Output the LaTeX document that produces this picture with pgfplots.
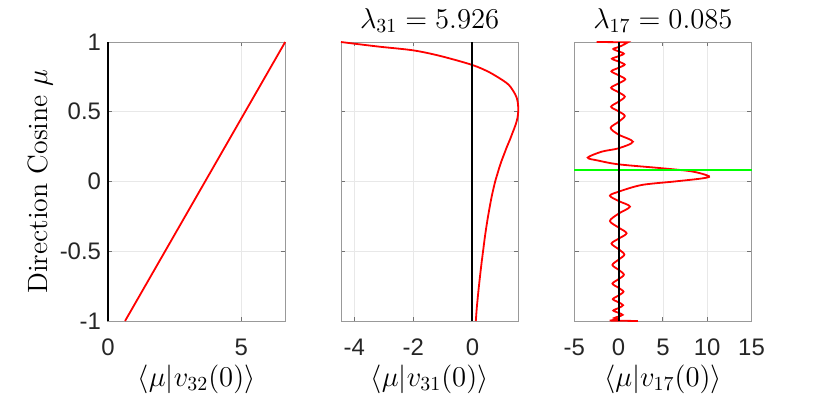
\documentclass[border=0pt]{standalone}
\usepackage{fontspec}
\setsansfont{Liberation Sans}
\usepackage{pgfplots}
\pgfplotsset{compat=1.18}
\definecolor{mred}{RGB}{255,0,0}
\definecolor{mgreen}{RGB}{0,255,0}

\pgfplotsset{
  every axis title/.style={at={(axis description cs:0.5,1.05)}, anchor=base,
                           font=\fontsize{14}{16}\selectfont},
  panel/.style={
    scale only axis, width=88.6bp, height=139.5bp,
    ymin=-1, ymax=1, ytick={-1,-0.5,0,0.5,1},
    grid=major, major grid style={draw=black!9, line width=0.4bp},
    axis line style={draw=black!40, line width=0.5bp},
    tick align=inside, major tick length=2.2bp,
    every tick/.style={black!55, line width=0.5bp},
    tick label style={font=\sffamily\fontsize{12}{14}\selectfont, text=black!85},
    xticklabel style={anchor=base, yshift=-17bp},
    /pgf/number format/assume math mode=true,
    label style={font=\fontsize{14}{16}\selectfont},
    xlabel style={at={(axis description cs:0.5,-0.233)}, anchor=base},
    ylabel style={at={(axis description cs:-0.344,0.5)}, anchor=base},
    clip=false,
  },
  redline/.style={mred, line width=0.9bp},
  zeroline/.style={black, line width=1bp},
}

\begin{document}
\begin{tikzpicture}
\useasboundingbox (-54bp,-37bp) rectangle (361bp,160.5bp);

% panel 1
\begin{axis}[panel, at={(0bp,0bp)}, anchor=south west,
    xmin=0, xmax=6.65, xtick={0,5},
    ylabel={Direction Cosine $\mu$},
    xlabel={$\langle\mu|v_{32}(0)\rangle$}]
\addplot[redline] coordinates {(0.64,-1) (6.65,1)};
\addplot[zeroline] coordinates {(0,-1) (0,1)};
\end{axis}

% panel 2
\begin{axis}[panel, at={(116.5bp,0bp)}, anchor=south west,
    xmin=-4.45, xmax=1.55, xtick={-4,-2,0}, yticklabels={},
    title={$\lambda_{31} = 5.926$},
    xlabel={$\langle\mu|v_{31}(0)\rangle$}]
\addplot[redline, smooth] coordinates {
  (-4.45,1.0) (-4.0,0.988) (-3.13,0.966) (-2.0,0.94) (-1.09,0.9)
  (0,0.835) (0.6,0.78) (1.17,0.704) (1.38,0.65) (1.50,0.60) (1.545,0.55)
  (1.55,0.50) (1.52,0.45) (1.45,0.40) (1.36,0.35) (1.27,0.30) (1.17,0.25)
  (1.08,0.20) (0.99,0.15) (0.91,0.10) (0.84,0.05) (0.77,0.0) (0.66,-0.1)
  (0.57,-0.2) (0.49,-0.3) (0.42,-0.4) (0.36,-0.5) (0.30,-0.6)
  (0.22,-0.75) (0.15,-0.9) (0.115,-1.0)
};
\addplot[zeroline] coordinates {(0,-1) (0,1)};
\end{axis}

% panel 3
\begin{axis}[panel, at={(233.15bp,0bp)}, anchor=south west,
    xmin=-5, xmax=15, xtick={-5,0,5,10,15}, yticklabels={},
    title={$\lambda_{17} = 0.085$},
    xlabel={$\langle\mu|v_{17}(0)\rangle$}]
\addplot[redline] coordinates {(-2.47,1.0) (1.05,0.998) (0.5,0.978)};
\addplot[redline, smooth] coordinates {
  (0.5,0.978) (0,0.964) (-0.6,0.950) (0,0.933) (0.6,0.916) (0,0.898)
  (-0.75,0.880) (0,0.860) (0.68,0.838) (0,0.815) (-0.82,0.790) (0,0.762)
  (0.75,0.733) (0,0.703) (-0.85,0.672) (0,0.640) (0.7,0.608) (0,0.572)
  (-0.85,0.536) (0,0.503) (0.7,0.470) (0,0.428) (-0.9,0.384) (0,0.336)
  (1.62,0.285) (0,0.238) (-1.9,0.214) (-3.49,0.171) (-2.3,0.150)
  (0,0.123) (4.9,0.095) (8.3,0.072) (10.2,0.038) (9.4,0.022) (6.3,0.0)
  (2.6,-0.025) (0,-0.073) (-0.98,-0.102) (0,-0.14) (1.28,-0.18)
  (0,-0.23) (-0.98,-0.283) (0,-0.33) (0.9,-0.371) (0,-0.41)
  (-0.8,-0.445) (0,-0.485) (0.65,-0.524) (0,-0.56) (-0.7,-0.598)
  (0,-0.633) (0.6,-0.668) (0,-0.70) (-0.7,-0.732) (0,-0.762)
  (0.55,-0.790) (0,-0.817) (-0.65,-0.843) (0,-0.866) (0.5,-0.887)
  (0,-0.907) (-0.6,-0.925) (0,-0.941) (0.45,-0.956) (0,-0.968)
  (-0.5,-0.979) (0,-0.987)
};
\addplot[redline] coordinates {(0,-0.987) (-1.0,-0.997) (2.18,-1.0)};
\addplot[mgreen, line width=0.9bp] coordinates {(-5,0.085) (15,0.085)};
\addplot[zeroline] coordinates {(0,-1) (0,1)};
\end{axis}
\end{tikzpicture}
\end{document}
